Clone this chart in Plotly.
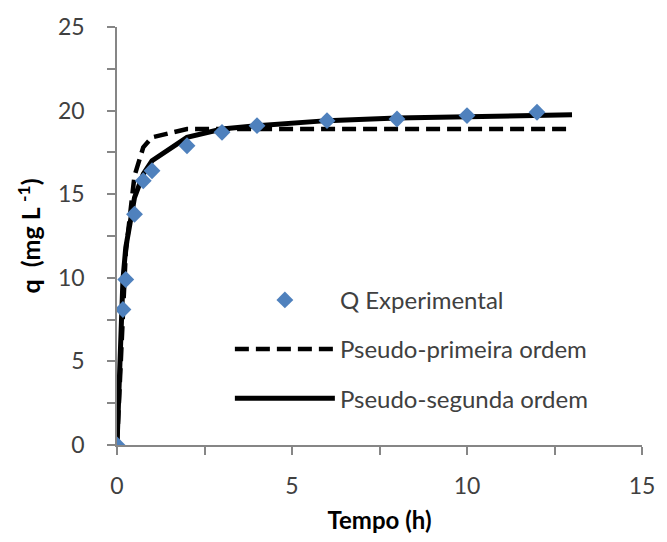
import plotly.graph_objects as go

# Experimental adsorption data
tempo_exp = [0, 0.17, 0.25, 0.5, 0.75, 1, 2, 3, 4, 6, 8, 10, 12]
q_exp = [0, 8.1, 9.9, 13.8, 15.8, 16.4, 17.9, 18.7, 19.1, 19.4, 19.5, 19.7, 19.9]

# Kinetic model curves
tempo_mod = [0, 0.17, 0.25, 0.5, 0.75, 1, 2, 3, 4, 6, 8, 10, 12, 13]
q_pfo = [0, 8.9, 11.5, 16.1, 17.8, 18.4, 18.9, 18.9, 18.9, 18.9, 18.9, 18.9, 18.9, 18.9]
q_pso = [0, 9.9, 11.8, 14.8, 16.2, 17.0, 18.4, 18.9, 19.1, 19.4, 19.55, 19.65, 19.7, 19.75]

x_ticks = [0, 5, 10, 15]
y_ticks = [0, 5, 10, 15, 20, 25]

FONT = "Lato"
TEXT = "#404040"
AXIS = "#868686"

fig = go.Figure()

fig.add_trace(go.Scatter(
    x=tempo_mod, y=q_pfo, mode="lines", name="Pseudo-primeira ordem",
    line=dict(color="black", width=4.5, dash="14px,7px"),
    legendgroup="b", legendrank=2,
))
fig.add_trace(go.Scatter(
    x=tempo_mod, y=q_pso, mode="lines", name="Pseudo-segunda ordem",
    line=dict(color="black", width=5),
    legendgroup="c", legendrank=3,
))
# markers drawn last so they sit on top of the curves
fig.add_trace(go.Scatter(
    x=tempo_exp, y=q_exp, mode="markers", name="Q Experimental",
    marker=dict(symbol="diamond", size=13, color="#4F81BD"),
    legendgroup="a", legendrank=1,
))

fig.update_layout(
    width=667, height=542,
    margin=dict(l=117, r=15, t=22, b=96),
    paper_bgcolor="white", plot_bgcolor="white",
    font=dict(family=FONT, color=TEXT, size=22),
    showlegend=True,
    legend=dict(
        x=0.215, y=0.40, xanchor="left", yanchor="top",
        bgcolor="rgba(0,0,0,0)", itemwidth=100,
        tracegroupgap=15, traceorder="grouped",
        font=dict(family=FONT, size=24, color=TEXT),
    ),
)

fig.update_xaxes(
    range=[0, 15], tickvals=x_ticks, ticktext=[str(v) for v in x_ticks],
    minor=dict(dtick=2.5, ticks="outside", ticklen=8, tickcolor=AXIS, tickwidth=1.5),
    ticks="outside", ticklen=8, tickcolor=AXIS, tickwidth=1.5,
    showline=True, linecolor=AXIS, linewidth=1.5, showgrid=False, zeroline=False,
    ticklabelstandoff=12,
    tickfont=dict(family=FONT, size=23, color=TEXT),
    title=dict(text="<b>Tempo (h)</b>", font=dict(family=FONT, size=24, color="black"), standoff=14),
)
fig.update_yaxes(
    range=[0, 25], tickvals=y_ticks, ticktext=[str(v) for v in y_ticks],
    minor=dict(dtick=2.5, ticks="outside", ticklen=8, tickcolor=AXIS, tickwidth=1.5),
    ticks="outside", ticklen=8, tickcolor=AXIS, tickwidth=1.5,
    showline=True, linecolor=AXIS, linewidth=1.5, showgrid=False, zeroline=False,
    ticklabelstandoff=18,
    tickfont=dict(family=FONT, size=23, color=TEXT),
    title=dict(text="<b>q  (mg L <sup>-1</sup>)</b>", font=dict(family=FONT, size=25, color="black"), standoff=10),
)

fig.write_html("out.html")
